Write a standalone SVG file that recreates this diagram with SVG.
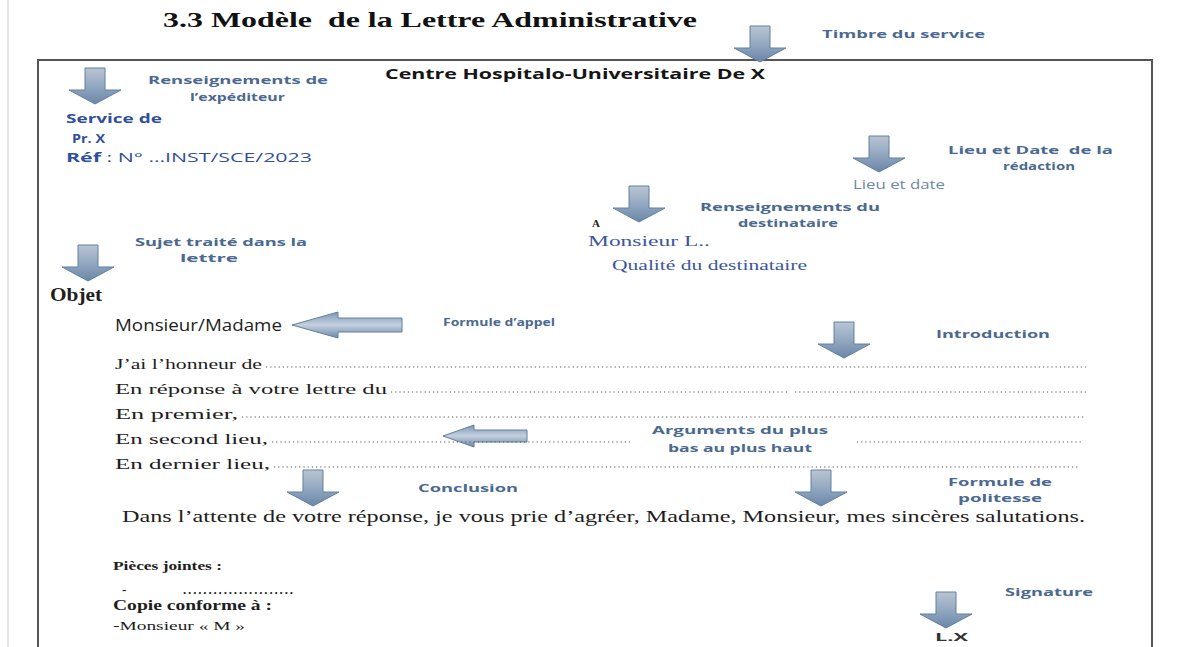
<svg xmlns="http://www.w3.org/2000/svg" xmlns:xlink="http://www.w3.org/1999/xlink" width="1203" height="647" viewBox="0 0 1203 647">
  <style>
    .title { font-family: "Liberation Serif", "DejaVu Serif", serif; font-weight: bold; font-size: 21px; fill: #111; }
    .head { font-family: "Open Sans", "Liberation Sans", sans-serif; font-weight: bold; font-size: 15px; fill: #151515; }
    .lbl { font-family: "Open Sans", "Liberation Sans", sans-serif; font-weight: bold; font-size: 11px; fill: #4a6990; }
    .snd { font-family: "Open Sans", "Liberation Sans", sans-serif; font-weight: bold; font-size: 13px; fill: #2f4f9e; }
    .snr { font-family: "Open Sans", "Liberation Sans", sans-serif; font-size: 13px; fill: #2f4f9e; }
    .place { font-family: "Open Sans", "Liberation Sans", sans-serif; font-size: 12px; fill: #6f87a8; }
    .dest { font-family: "Liberation Serif", "DejaVu Serif", serif; font-size: 15px; fill: #3a57a0; }
    .body { font-family: "Liberation Serif", "DejaVu Serif", serif; font-size: 15px; fill: #1e1e1e; }
    .serifb { font-family: "Liberation Serif", "DejaVu Serif", serif; font-weight: bold; fill: #1e1e1e; }
    .salut { font-family: "Open Sans", "Liberation Sans", sans-serif; font-size: 15px; fill: #222; }
    .sig { font-family: "Open Sans", "Liberation Sans", sans-serif; font-weight: bold; font-size: 11px; fill: #333; }
    .dots { stroke: #555; stroke-width: 1; stroke-dasharray: 1.2 3; fill: none; }
    .frame { fill: none; stroke: #555; stroke-width: 2; }
    .arrow { stroke: #60809f; stroke-width: 1; }
  </style>
  <defs>
    <linearGradient id="gDown" x1="0" y1="0" x2="0" y2="1">
      <stop offset="0" stop-color="#b9c5d3"/>
      <stop offset="0.55" stop-color="#8fa5bf"/>
      <stop offset="1" stop-color="#6a86a7"/>
    </linearGradient>
    <linearGradient id="gLeft" x1="0" y1="0" x2="0" y2="1">
      <stop offset="0" stop-color="#7d96b4"/>
      <stop offset="0.5" stop-color="#c3d0de"/>
      <stop offset="1" stop-color="#6d88a8"/>
    </linearGradient>
    <!-- block arrow pointing down, 52 x 36 -->
    <path id="down" d="M16,0 H36 V22 H52 L26,36 L0,22 H16 Z"/>
  </defs>

  <!-- page edge and letter frame -->
  <line x1="8" y1="0" x2="8" y2="647" stroke="#e4e4e4" stroke-width="2"/>
  <path class="frame" d="M38,647 V60 H1152 V647"/>

  <text class="title" x="163" y="27" textLength="534" lengthAdjust="spacingAndGlyphs" xml:space="preserve">3.3 Modèle  de la Lettre Administrative</text>

  <!-- pointer arrows -->
  <g id="arrows" class="arrow">
    <use xlink:href="#down" x="734" y="26" fill="url(#gDown)"/>
    <use xlink:href="#down" x="69" y="68" fill="url(#gDown)"/>
    <use xlink:href="#down" x="853" y="136" fill="url(#gDown)"/>
    <use xlink:href="#down" x="613" y="186" fill="url(#gDown)"/>
    <use xlink:href="#down" x="62" y="245" fill="url(#gDown)"/>
    <use xlink:href="#down" x="818" y="322" fill="url(#gDown)"/>
    <use xlink:href="#down" x="287" y="470" fill="url(#gDown)"/>
    <use xlink:href="#down" x="795" y="470" fill="url(#gDown)"/>
    <use xlink:href="#down" x="920" y="592" fill="url(#gDown)"/>
    <path d="M292,325 L338,312 V318 H402 V332 H338 V338 Z" fill="url(#gLeft)"/>
    <path d="M443,436 L474,425 V430 H527 V442 H474 V447 Z" fill="url(#gLeft)"/>
  </g>

  <g id="timbre">
    <text class="lbl" x="822" y="38" textLength="163" lengthAdjust="spacingAndGlyphs">Timbre du service</text>
    <text class="head" x="385" y="79" textLength="380" lengthAdjust="spacingAndGlyphs">Centre Hospitalo-Universitaire De X</text>
  </g>

  <g id="expediteur">
    <text class="lbl" x="148" y="84" textLength="180" lengthAdjust="spacingAndGlyphs">Renseignements de</text>
    <text class="lbl" x="190" y="101" textLength="95" lengthAdjust="spacingAndGlyphs">l’expéditeur</text>
    <text class="snd" x="66" y="123" textLength="96" lengthAdjust="spacingAndGlyphs">Service de</text>
    <text class="snd" x="72" y="143" textLength="33" lengthAdjust="spacingAndGlyphs">Pr. X</text>
    <text x="66" y="162" textLength="246" lengthAdjust="spacingAndGlyphs"><tspan class="snd">Réf</tspan><tspan class="snr"> : N° …INST/SCE/2023</tspan></text>
  </g>

  <g id="lieu-date">
    <text class="lbl" x="948" y="154" textLength="165" lengthAdjust="spacingAndGlyphs" xml:space="preserve">Lieu et Date  de la</text>
    <text class="lbl" x="1003" y="170" textLength="72" lengthAdjust="spacingAndGlyphs">rédaction</text>
    <text class="place" x="853" y="189" textLength="92" lengthAdjust="spacingAndGlyphs">Lieu et date</text>
  </g>

  <g id="destinataire">
    <text class="lbl" x="700" y="211" textLength="180" lengthAdjust="spacingAndGlyphs">Renseignements du</text>
    <text class="lbl" x="738" y="227" textLength="100" lengthAdjust="spacingAndGlyphs">destinataire</text>
    <text class="serifb" x="592" y="227" style="font-size:11px">A</text>
    <text class="dest" x="588" y="246" textLength="122" lengthAdjust="spacingAndGlyphs">Monsieur L..</text>
    <text class="dest" x="612" y="270" textLength="195" lengthAdjust="spacingAndGlyphs">Qualité du destinataire</text>
  </g>

  <g id="objet">
    <text class="lbl" x="135" y="246" textLength="172" lengthAdjust="spacingAndGlyphs">Sujet traité dans la</text>
    <text class="lbl" x="180" y="262" textLength="58" lengthAdjust="spacingAndGlyphs">lettre</text>
    <text class="serifb" x="50" y="301" style="font-size:18px" textLength="52" lengthAdjust="spacingAndGlyphs">Objet</text>
  </g>

  <g id="appel">
    <text class="salut" x="115" y="331" style="font-size:16px" textLength="167" lengthAdjust="spacingAndGlyphs">Monsieur/Madame</text>
    <text class="lbl" x="443" y="326" textLength="112" lengthAdjust="spacingAndGlyphs">Formule d’appel</text>
    <text class="lbl" x="936" y="338" textLength="114" lengthAdjust="spacingAndGlyphs">Introduction</text>
  </g>

  <g id="corps">
    <text class="body" x="115" y="369" textLength="147" lengthAdjust="spacingAndGlyphs">J’ai l’honneur de</text>
    <line class="dots" x1="266" y1="367" x2="1086" y2="367"/>
    <text class="body" x="115" y="394" textLength="272" lengthAdjust="spacingAndGlyphs">En réponse à votre lettre du</text>
    <line class="dots" x1="391" y1="392" x2="787" y2="392"/>
    <line class="dots" x1="795" y1="392" x2="1087" y2="392"/>
    <text class="body" x="115" y="419" textLength="123" lengthAdjust="spacingAndGlyphs">En premier,</text>
    <line class="dots" x1="242" y1="417" x2="1086" y2="417"/>
    <text class="body" x="115" y="444" textLength="153" lengthAdjust="spacingAndGlyphs">En second lieu,</text>
    <line class="dots" x1="272" y1="442" x2="630" y2="442"/>
    <line class="dots" x1="857" y1="442" x2="1083" y2="442"/>
    <text class="lbl" x="652" y="434" textLength="176" lengthAdjust="spacingAndGlyphs">Arguments du plus</text>
    <text class="lbl" x="668" y="452" textLength="144" lengthAdjust="spacingAndGlyphs">bas au plus haut</text>
    <text class="body" x="115" y="469" textLength="155" lengthAdjust="spacingAndGlyphs">En dernier lieu,</text>
    <line class="dots" x1="274" y1="467" x2="1078" y2="467"/>
  </g>

  <g id="conclusion">
    <text class="lbl" x="418" y="492" textLength="100" lengthAdjust="spacingAndGlyphs">Conclusion</text>
    <text class="lbl" x="948" y="486" textLength="104" lengthAdjust="spacingAndGlyphs">Formule de</text>
    <text class="lbl" x="958" y="502" textLength="84" lengthAdjust="spacingAndGlyphs">politesse</text>
    <text class="body" x="122" y="522" style="font-size:16px" textLength="963" lengthAdjust="spacingAndGlyphs">Dans l’attente de votre réponse, je vous prie d’agréer, Madame, Monsieur, mes sincères salutations.</text>
  </g>

  <g id="annexes">
    <text class="serifb" x="113" y="570" style="font-size:13px" textLength="109" lengthAdjust="spacingAndGlyphs">Pièces jointes :</text>
    <text class="serifb" x="122" y="594" style="font-size:13px">-</text>
    <text class="serifb" x="183" y="594" style="font-size:13px" textLength="110" lengthAdjust="spacing">......................</text>
    <text class="serifb" x="113" y="610" style="font-size:14px" textLength="159" lengthAdjust="spacingAndGlyphs">Copie conforme à :</text>
    <text class="body" x="113" y="630" style="font-size:13px" textLength="132" lengthAdjust="spacingAndGlyphs">-Monsieur « M »</text>
  </g>

  <g id="signature">
    <text class="lbl" x="1005" y="596" textLength="88" lengthAdjust="spacingAndGlyphs">Signature</text>
    <text class="sig" x="935" y="641" textLength="33" lengthAdjust="spacingAndGlyphs">L.X</text>
  </g>
</svg>
